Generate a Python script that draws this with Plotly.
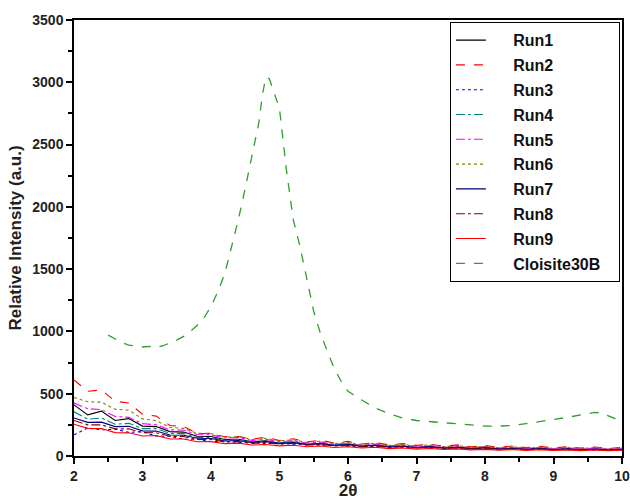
import plotly.graph_objects as go

x_runs = [round(2.0 + 0.2 * i, 1) for i in range(41)]

run1 = [410, 330, 360, 285, 300, 240, 236, 196, 192, 158, 157, 132, 135, 114, 122, 103, 112, 94, 100, 86, 95, 80, 87, 73, 80, 68, 75, 64, 71, 60, 68, 57, 64, 55, 62, 53, 60, 51, 59, 50, 56]
run2 = [610, 520, 530, 440, 425, 335, 320, 245, 238, 180, 182, 155, 156, 136, 150, 124, 138, 114, 127, 104, 117, 96, 108, 89, 100, 85, 95, 79, 89, 73, 84, 70, 80, 67, 77, 65, 74, 63, 72, 61, 68]
run3 = [170, 225, 210, 215, 190, 195, 160, 158, 135, 134, 116, 118, 108, 110, 99, 104, 94, 95, 87, 89, 80, 83, 73, 79, 69, 74, 64, 70, 60, 65, 57, 62, 54, 58, 52, 56, 49, 54, 47, 52, 50]
run4 = [355, 295, 305, 255, 262, 220, 220, 182, 180, 148, 148, 127, 133, 113, 120, 104, 114, 94, 104, 87, 96, 81, 90, 75, 84, 70, 78, 65, 73, 61, 69, 58, 66, 55, 63, 53, 61, 52, 59, 50, 56]
run5 = [425, 380, 372, 318, 310, 260, 250, 210, 208, 172, 170, 144, 148, 125, 134, 114, 124, 105, 111, 95, 101, 86, 96, 80, 90, 76, 82, 70, 79, 66, 75, 63, 71, 60, 68, 58, 66, 56, 64, 55, 61]
run6 = [470, 435, 432, 375, 368, 298, 284, 230, 222, 182, 180, 150, 157, 132, 142, 122, 130, 110, 118, 100, 108, 91, 103, 85, 93, 80, 90, 74, 84, 70, 77, 66, 76, 63, 72, 61, 70, 60, 68, 59, 65]
run7 = [305, 270, 272, 236, 238, 202, 200, 168, 167, 142, 141, 121, 125, 107, 115, 99, 107, 91, 99, 84, 91, 76, 86, 72, 78, 66, 75, 62, 69, 58, 66, 55, 62, 52, 59, 50, 56, 48, 54, 47, 51]
run8 = [285, 250, 250, 218, 218, 188, 187, 158, 157, 132, 132, 113, 117, 101, 109, 95, 102, 87, 93, 80, 84, 73, 80, 68, 75, 64, 70, 59, 66, 56, 63, 53, 60, 51, 57, 49, 55, 48, 53, 47, 51]
run9 = [255, 222, 220, 188, 186, 160, 165, 136, 136, 114, 115, 99, 103, 88, 92, 81, 86, 74, 80, 68, 74, 64, 70, 59, 64, 55, 60, 52, 57, 49, 53, 47, 52, 45, 50, 44, 49, 43, 48, 42, 46]

x_clo = [2.5, 2.6, 2.7, 2.8, 2.9, 3.0, 3.1, 3.2, 3.3, 3.4, 3.5, 3.6, 3.7, 3.8, 3.9,
         4.0, 4.1, 4.2, 4.3, 4.4, 4.5, 4.6, 4.7, 4.75, 4.8, 4.85, 4.9, 5.0, 5.1, 5.2,
         5.3, 5.4, 5.5, 5.6, 5.7, 5.8, 5.9, 6.0, 6.2, 6.4, 6.6, 6.8, 7.0, 7.2, 7.4,
         7.6, 7.8, 8.0, 8.2, 8.4, 8.6, 8.8, 9.0, 9.2, 9.4, 9.6, 9.7, 9.8, 9.9, 10.0]
y_clo = [970, 940, 910, 890, 880, 875, 880, 870, 885, 905, 930, 960, 1000, 1050, 1110,
         1200, 1320, 1460, 1680, 1900, 2150, 2420, 2680, 2900, 3040, 3030, 2950, 2790, 2300, 1900,
         1680, 1420, 1160, 980, 840, 700, 600, 520, 450, 385, 340, 305, 285, 275, 265,
         255, 250, 240, 240, 245, 260, 275, 290, 310, 330, 350, 345, 325, 300, 265]

series = [
    ("Run1", run1, "#000000", "solid"),
    ("Run2", run2, "#FF0000", "dash"),
    ("Run3", run3, "#0000FF", "dot"),
    ("Run4", run4, "#008080", "dashdot"),
    ("Run5", run5, "#FF00FF", "dashdot"),
    ("Run6", run6, "#808000", "dot"),
    ("Run7", run7, "#000080", "solid"),
    ("Run8", run8, "#800000", "dashdot"),
    ("Run9", run9, "#FF0000", "solid"),
]

LPAD = "\u00a0" * 5
RPAD = "\u00a0" * 3

fig = go.Figure()
for name, ys, color, dash in series:
    fig.add_trace(go.Scatter(x=x_runs, y=ys, name=LPAD + name + RPAD, mode="lines", legendgroup=name,
                             line=dict(color=color, dash=dash, width=1.1)))
fig.add_trace(go.Scatter(x=x_clo, y=y_clo, name=LPAD + "Cloisite30B" + RPAD, mode="lines", legendgroup="clo",
                         line=dict(color="#2E9E2E", dash="dash", width=1.3)))

axis_common = dict(showline=True, linecolor="black", linewidth=1.5, mirror=True,
                   ticks="outside", ticklen=6, tickwidth=1.5, tickcolor="black",
                   showgrid=False, zeroline=False, automargin=False,
                   tickfont=dict(family="Liberation Sans, Arial", size=14, color="#222", weight="bold"))

fig.update_layout(
    width=630, height=500,
    margin=dict(l=74, r=8, t=20, b=44),
    plot_bgcolor="white", paper_bgcolor="white",
    xaxis=dict(range=[2, 10], dtick=1, minor=dict(ticks="outside", ticklen=4, dtick=0.5, tickcolor="black"),
               title=dict(text="2θ", font=dict(family="Liberation Sans, Arial", size=17, color="#222", weight="bold"), standoff=6),
               **axis_common),
    yaxis=dict(range=[0, 3500], dtick=500, minor=dict(ticks="outside", ticklen=4, dtick=250, tickcolor="black"),
               title=dict(text="Relative Intensity (a.u.)", font=dict(family="Liberation Sans, Arial", size=17, color="#222", weight="bold"), standoff=6),
               **axis_common),
    legend=dict(x=0.686, y=0.995, xanchor="left", yanchor="top",
                bordercolor="black", borderwidth=1, bgcolor="white",
                tracegroupgap=1,
                font=dict(family="Liberation Sans, Arial", size=16, color="#111", weight="bold")),
    showlegend=True,
)

fig.write_html("out.html", config={"displayModeBar": False},
               post_script="document.body.style.margin='0';document.body.style.overflow='hidden';")
